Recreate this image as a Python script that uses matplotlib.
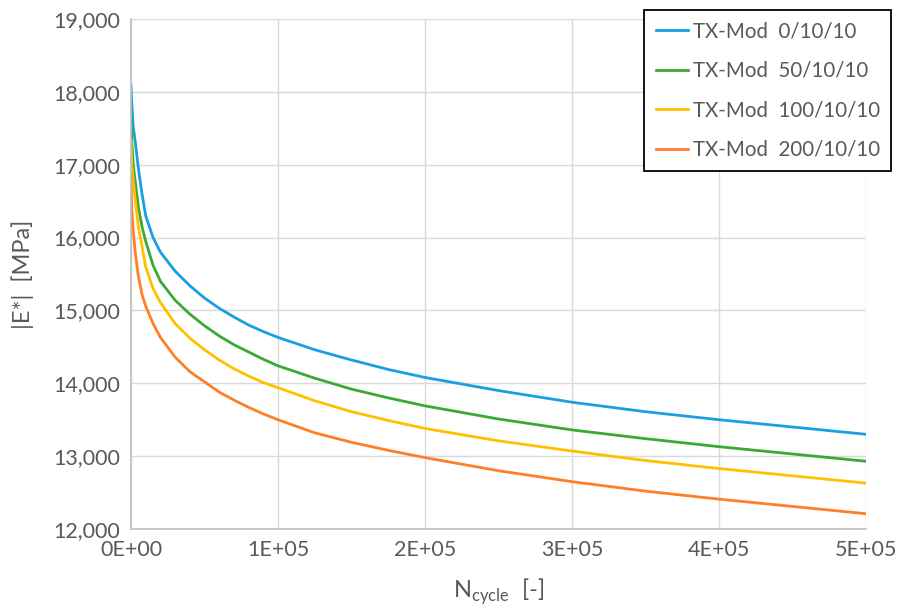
import numpy as np
import matplotlib.pyplot as plt
from matplotlib.ticker import FuncFormatter

# load cycles
n_cycle = [1, 500, 1500, 3000, 5000, 7500, 10000, 15000, 20000, 30000, 40000,
           50000, 60000, 70000, 80000, 90000, 100000, 125000, 150000, 175000,
           200000, 250000, 300000, 350000, 400000, 450000, 500000]

# |E*| [MPa]
e_0 = [18080, 17850, 17520, 17300, 16950, 16600, 16300, 16000, 15800, 15540, 15340,
       15170, 15030, 14910, 14800, 14710, 14630, 14460, 14320, 14190,
       14080, 13900, 13740, 13610, 13500, 13400, 13300]
e_50 = [17640, 17340, 17000, 16750, 16420, 16150, 15950, 15620, 15400, 15140, 14950,
        14790, 14650, 14530, 14430, 14330, 14240, 14070, 13920, 13800,
        13690, 13510, 13360, 13240, 13130, 13030, 12930]
e_100 = [17340, 17000, 16800, 16500, 16150, 15880, 15600, 15300, 15110, 14820, 14620,
         14460, 14320, 14200, 14100, 14010, 13940, 13760, 13610, 13490,
         13380, 13210, 13070, 12940, 12830, 12730, 12630]
e_200 = [16860, 16400, 16100, 15780, 15470, 15220, 15060, 14820, 14630, 14360, 14160,
         14020, 13880, 13770, 13670, 13580, 13500, 13320, 13190, 13080,
         12980, 12800, 12650, 12520, 12410, 12310, 12210]

labels = ['TX-Mod  0/10/10', 'TX-Mod  50/10/10', 'TX-Mod  100/10/10', 'TX-Mod  200/10/10']
colors = ['#1a9fe0', '#3aaa35', '#ffc000', '#ff7f27']

plt.rcParams['font.family'] = ['Lato', 'DejaVu Sans']

fig = plt.figure(figsize=(8.99, 6.16), dpi=100)
ax = fig.add_axes([0.1457, 0.1412, 0.8176, 0.828])

for y, lab, c in zip([e_0, e_50, e_100, e_200], labels, colors):
    ax.plot(n_cycle, y, color=c, lw=2, label=lab)

ax.set_xlim(0, 500000)
ax.set_ylim(12000, 19000)
ax.set_xticks(np.arange(0, 500001, 100000))
ax.set_yticks(np.arange(12000, 19001, 1000))
ax.xaxis.set_major_formatter(FuncFormatter(lambda v, p: '%dE+%02d' % (v / 1e5, 0 if v == 0 else 5)))
ax.yaxis.set_major_formatter(FuncFormatter(lambda v, p: '{:,.0f}'.format(v)))
ax.grid(True, color='#d9d9d9', lw=1)
ax.set_axisbelow(True)
ax.tick_params(length=0, labelsize=15.5, colors='#595959', pad=8)
for s in ['top', 'right']:
    ax.spines[s].set_visible(False)
for s in ['left', 'bottom']:
    ax.spines[s].set_color('#bfbfbf')
    ax.spines[s].set_linewidth(1.2)

ax.set_ylabel('|E*|  [MPa]', fontsize=17, color='#595959', labelpad=14)
ax.set_xlabel(r'N$_{\mathregular{cycle}}$  [-]', fontsize=17, color='#595959', labelpad=12)

leg = ax.legend(loc='upper right', bbox_to_anchor=(891 / 899, 0.9838), bbox_transform=fig.transFigure,
                fancybox=False, edgecolor='black', fontsize=14.8, handlelength=1.6,
                handletextpad=0.2, labelspacing=0.95, borderpad=0.55, borderaxespad=0,
                framealpha=1)
leg.get_frame().set_linewidth(1.3)
for t in leg.get_texts():
    t.set_color('#595959')

fig.savefig('out.png', dpi=100)
